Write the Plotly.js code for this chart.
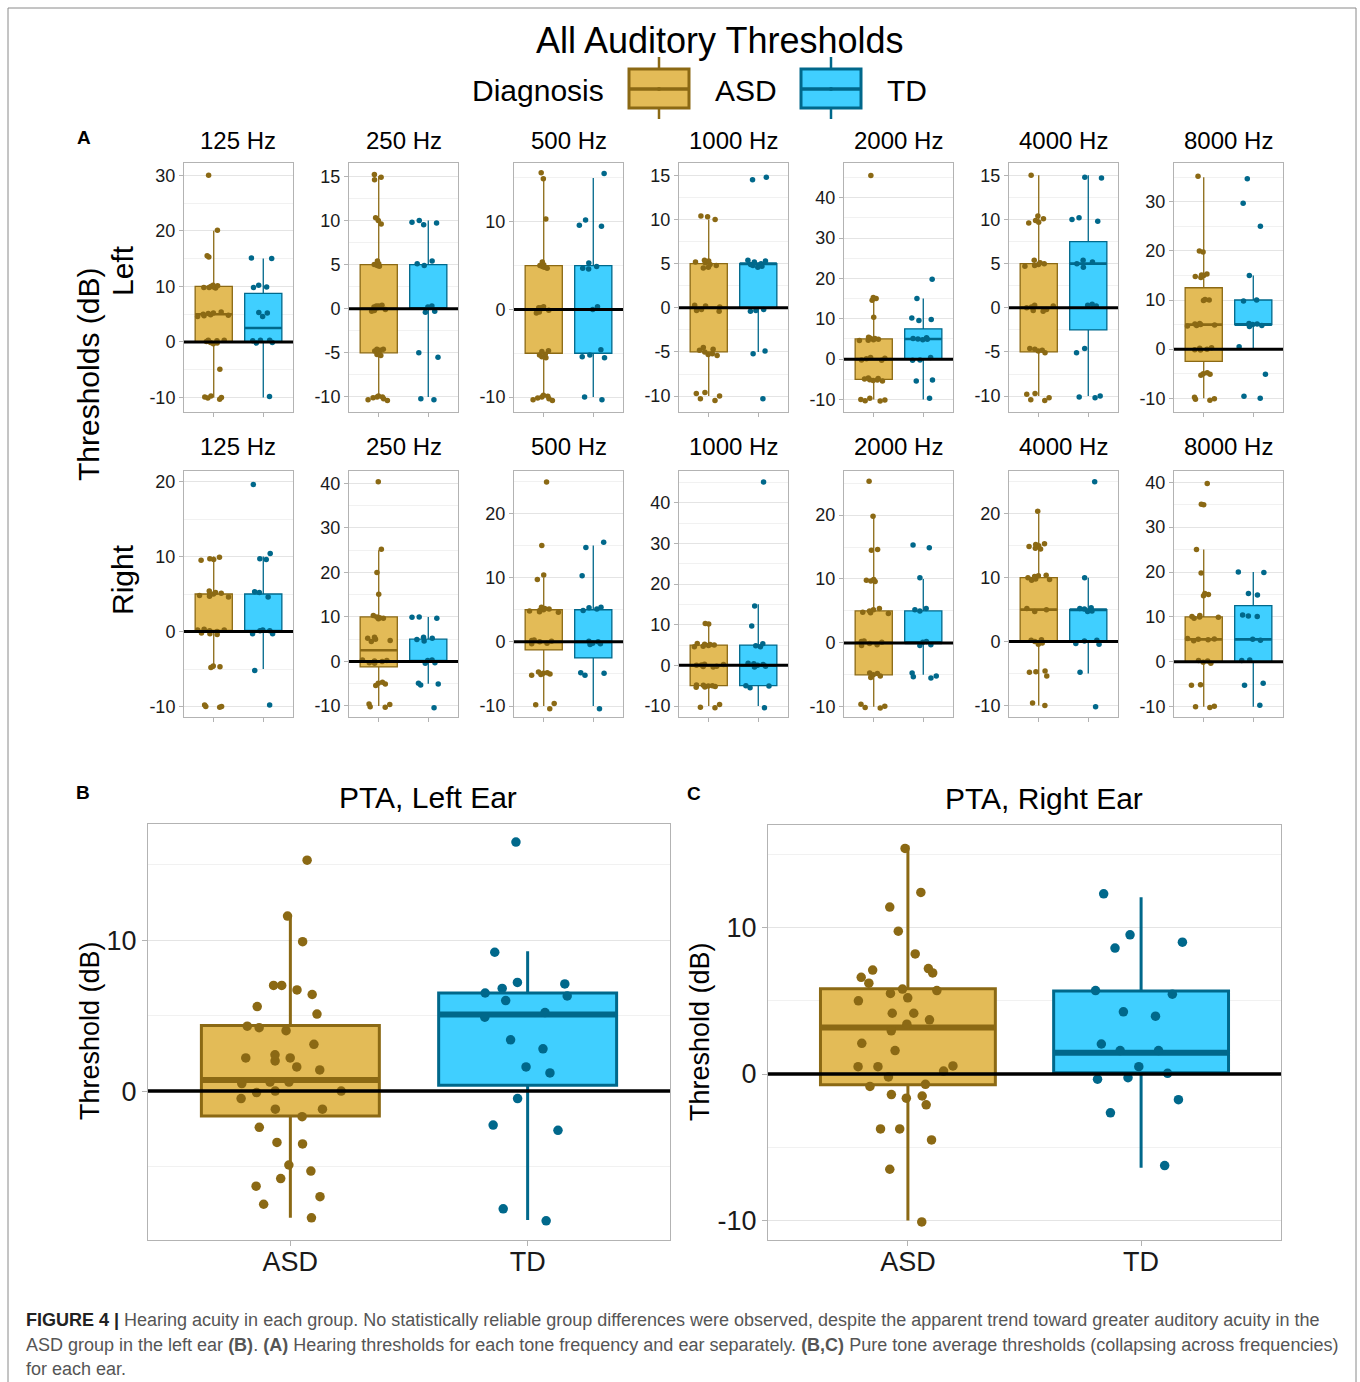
<!DOCTYPE html>
<html><head><meta charset="utf-8">
<script src="https://cdn.plot.ly/plotly-3.0.1.min.js"></script>
<style>body{margin:0;background:#fff}#chart{width:1360px;height:1382px}</style>
</head><body><div id="chart"></div>
<script>
// ---------- DATA ----------
const groups = ['ASD', 'TD'];
const freqLabels = ['125 Hz', '250 Hz', '500 Hz', '1000 Hz', '2000 Hz', '4000 Hz', '8000 Hz'];
const earLabels = ['Left', 'Right'];

// box stats: [lowerfence, q1, median, q3, upperfence]
// Left ear
const L125_ASD = [30.0, 20.1, 15.5, 15.3, 10.2, 10.0, 9.9, 9.8, 9.7, 10.1, 9.8, 5.4, 5.2, 5.0, 4.8, 4.7, 4.6, 5.1, 4.9, 0.3, 0.2, -0.2, -0.1, 0.3, 0.1, -0.3, -4.9, -9.7, -10.0, -10.3, -10.1, -9.9];
const L125_ASD_box = [-10, 0, 5, 10, 20];
const L125_TD = [15.0, 15.1, 10.2, 9.8, 9.9, 5.3, 5.2, 4.6, 0.3, -0.2, 0.2, -0.1, 0.3, -9.8];
const L125_TD_box = [-10, 0, 2.5, 8.75, 15];

const L250_ASD = [15.2, 14.9, 14.6, 10.3, 10.0, 9.6, 5.4, 5.0, 5.1, 4.8, 4.9, 0.3, 0.2, -0.3, -0.2, 0.4, 0.1, -0.1, 0.3, -4.6, -4.7, -4.8, -5.2, -5.3, -4.6, -10.0, -10.2, -10.4, -10.1, -10.0, -9.9, -10.3];
const L250_ASD_box = [-10, -5, 0, 5, 15];
const L250_TD = [10.0, 9.8, 9.7, 9.5, 5.4, 5.1, 4.9, 0.3, 0.2, -0.3, -0.4, -5.0, -5.5, -10.3, -10.2];
const L250_TD_box = [-10, 0, 0, 5, 10];

const L500_ASD = [15.6, 14.9, 10.3, 5.4, 5.0, 4.9, 4.8, 4.7, 5.1, 0.3, 0.2, -0.3, -0.4, 0.1, 0.2, -0.1, -4.7, -4.8, -5.2, -5.4, -5.5, -5.1, -9.8, -10.0, -10.2, -10.4, -10.3, -9.9, -10.1];
const L500_ASD_box = [-10, -5, 0, 5, 15];
const L500_TD = [15.5, 10.2, 9.6, 9.5, 5.3, 4.9, 4.7, 4.6, 0.3, 0.0, -4.6, -5.2, -5.4, -5.5, -10.0, -10.3];
const L500_TD_box = [-10, -5, 0, 5, 15];

const L1000_ASD = [10.4, 10.3, 10.0, 5.4, 5.3, 5.2, 4.9, 4.8, 4.6, 4.5, 5.1, 0.3, -0.3, -0.4, 0.2, -0.2, 0.1, -4.5, -4.7, -5.2, -5.4, -5.3, -5.0, -4.8, -9.6, -9.7, -10.0, -10.3, -10.5];
const L1000_ASD_box = [-10, -5, 0, 5, 10];
const L1000_TD = [14.8, 14.5, 5.3, 5.2, 5.0, 4.9, 4.8, 4.6, 5.4, 4.7, -0.3, -0.4, -0.2, -5.2, -4.9, -10.3];
const L1000_TD_box = [-5, 0, 5, 5, 5];

const L2000_ASD = [45.5, 15.3, 15.0, 14.6, 10.4, 5.4, 5.1, 4.9, 4.8, 4.6, 5.2, 4.7, 0.4, -0.2, 0.1, -0.3, 0.2, -4.7, -5.1, -5.3, -4.9, -5.2, -4.8, -5.4, -9.7, -10.1, -10.4, -10.3, -10.0];
const L2000_ASD_box = [-10, -5, 0, 5, 15];
const L2000_TD = [19.8, 15.0, 10.2, 9.8, 9.6, 5.3, 5.1, 4.9, 4.8, 5.0, 0.4, -0.3, -0.2, -5.2, -5.4, -9.7];
const L2000_TD_box = [-10, 0, 5, 7.5, 15];

const L4000_ASD = [15.0, 10.4, 10.1, 9.9, 9.7, 9.6, 5.4, 5.1, 4.9, 4.8, 4.7, 5.0, 0.3, -0.2, -0.4, 0.1, 0.2, -0.3, 0.0, -4.6, -4.8, -4.9, -5.1, -4.7, -9.7, -10.2, -10.5, -9.8, -10.4];
const L4000_ASD_box = [-10, -5, 0, 5, 15];
const L4000_TD = [14.7, 14.8, 10.2, 9.8, 10.0, 5.4, 5.2, 5.0, 4.6, 0.4, 0.3, 0.2, -4.6, -5.1, -10.0, -10.1, -10.2];
const L4000_TD_box = [-10, -2.5, 5, 7.5, 15];

const L8000_ASD = [35.2, 20.0, 19.8, 15.3, 15.0, 14.8, 14.6, 15.1, 10.1, 9.9, 10.0, 5.2, 4.8, 5.0, 4.9, 4.7, 5.1, 0.2, -0.2, 0.0, 0.3, -0.1, -5.1, -4.8, -5.3, -5.0, -9.8, -10.1, -10.4, -10.2];
const L8000_ASD_box = [-10, -2.5, 5, 12.5, 35];
const L8000_TD = [34.7, 29.7, 25.0, 15.0, 10.0, 9.8, 5.2, 5.0, 4.8, 4.6, 5.1, 0.5, -5.1, -9.6, -10.0];
const L8000_TD_box = [0, 5, 5, 10, 15];

// Right ear
const R125_ASD = [9.9, 9.6, 9.5, 9.7, 5.4, 5.2, 4.8, 4.7, 4.6, 5.1, 5.0, 4.9, 0.3, 0.2, -0.3, -0.4, 0.1, -0.2, 0.0, 0.2, -4.7, -4.6, -4.8, -10.0, -10.0, -9.8, -10.1];
const R125_ASD_box = [-5, 0, 0, 5, 10];
const R125_TD = [19.6, 10.4, 9.6, 9.7, 5.3, 5.2, 4.6, 0.1, -0.3, -0.3, 0.2, 0.1, -5.2, -9.8];
const R125_TD_box = [-5, 0, 0, 5, 10];

const R250_ASD = [40.4, 25.2, 20.0, 15.1, 10.3, 10.0, 9.7, 9.6, 9.8, 5.4, 5.2, 4.7, 4.5, 5.0, 0.3, 0.2, -0.3, -0.4, 0.1, 0.0, -4.7, -5.1, -5.4, -4.9, -10.2, -9.6, -9.7, -10.3];
const R250_ASD_box = [-10, -1.25, 2.5, 10, 25];
const R250_TD = [10.0, 9.9, 9.7, 5.4, 5.2, 4.9, 4.6, 0.3, -0.4, -0.3, 0.2, -5.1, -4.9, -5.3, -10.4];
const R250_TD_box = [-5, 0, 0, 5, 10];

const R500_ASD = [24.9, 15.0, 10.4, 9.7, 5.4, 5.2, 5.0, 4.8, 4.6, 4.7, 5.1, 4.9, 0.3, 0.2, -0.3, -0.2, 0.1, 0.0, -4.7, -4.9, -5.1, -5.2, -5.0, -4.8, -9.6, -9.8, -10.4];
const R500_ASD_box = [-10, -1.25, 0, 5, 10];
const R500_TD = [15.5, 14.7, 10.3, 5.4, 5.3, 5.1, 4.9, 0.1, -0.2, -0.3, -0.4, 0.0, -5.2, -4.8, -4.9, -10.4];
const R500_TD_box = [-10, -2.5, 0, 5, 15];

const R1000_ASD = [10.3, 10.2, 5.4, 5.2, 4.9, 4.7, 4.6, 5.1, 5.0, 0.3, -0.3, -0.2, 0.1, 0.2, -0.4, 0.0, -4.8, -5.1, -5.3, -5.2, -4.9, -5.4, -5.0, -10.3, -10.4, -9.6];
const R1000_ASD_box = [-10, -5, 0, 5, 10];
const R1000_TD = [45.1, 14.6, 9.7, 5.3, 4.8, 4.6, 0.5, 0.4, -0.2, -0.4, 0.2, 0.0, -5.1, -5.0, -5.5, -10.4];
const R1000_TD_box = [-10, -5, 0, 5, 15];

const R2000_ASD = [25.3, 19.8, 14.6, 14.5, 9.9, 9.8, 9.7, 9.6, 5.4, 5.2, 5.0, 4.8, 4.7, 4.6, 0.3, -0.3, 0.2, -0.4, 0.1, -0.1, -4.7, -5.0, -5.2, -5.4, -4.8, -9.6, -9.9, -10.1, -10.2];
const R2000_ASD_box = [-10, -5, 0, 5, 20];
const R2000_TD = [15.3, 14.9, 10.2, 5.4, 5.2, 5.0, 0.2, -0.3, -0.4, 0.1, -4.7, -5.2, -5.3, -5.5];
const R2000_TD_box = [-5, 0, 0, 5, 10];

const R4000_ASD = [20.4, 15.3, 15.0, 14.9, 14.6, 14.5, 15.2, 10.4, 10.2, 10.0, 9.8, 9.7, 9.6, 10.3, 5.2, 5.0, 4.7, 0.3, -0.2, 0.2, -0.4, 0.0, -4.7, -4.8, -5.4, -4.6, -9.6, -10.0];
const R4000_ASD_box = [-10, 0, 5, 10, 20];
const R4000_TD = [25.0, 10.0, 5.2, 5.1, 4.8, 4.7, 5.3, 0.2, -0.3, 0.1, -0.4, -4.8, -10.2];
const R4000_TD_box = [-5, 0, 5, 5, 10];

const R8000_ASD = [39.7, 35.1, 35.0, 25.0, 19.8, 15.2, 15.0, 14.7, 10.3, 10.1, 9.9, 9.7, 10.0, 5.2, 4.9, 4.7, 5.0, 5.1, 0.3, 0.2, -0.3, -0.1, -5.1, -5.2, -9.9, -10.0, -10.2];
const R8000_ASD_box = [-10, 0, 5, 10, 25];
const R8000_TD = [20.0, 19.9, 15.2, 14.9, 10.4, 10.1, 10.2, 5.0, 4.8, 0.4, 0.3, -4.8, -5.2, -9.7];
const R8000_TD_box = [-10, 0, 5, 12.5, 20];

// Pure tone averages
const PTA_L_ASD = [15.3, 11.6, 9.9, 6.4, 6.7, 7.0, 7.0, 5.6, 5.1, 4.3, 4.2, 4.0, 3.1, 2.4, 2.2, 2.2, 2.0, 1.6, 1.4, 0.6, 0.6, 0.5, -0.1, 0.0, 0.0, -0.5, -1.2, -1.2, -1.7, -2.4, -3.4, -3.5, -4.9, -5.3, -5.8, -6.3, -7.0, -7.5, -8.4];
const PTA_L_ASD_box = [-8.4, -1.66, 0.73, 4.35, 11.6];
const PTA_L_TD = [16.5, 9.2, 7.2, 6.8, 7.1, 6.5, 6.3, 6.0, 5.2, 4.9, 3.4, 2.8, 1.6, 1.2, -0.5, -2.25, -2.6, -7.8, -8.6];
const PTA_L_TD_box = [-8.55, 0.38, 5.08, 6.5, 9.27];

const PTA_R_ASD = [15.4, 12.4, 11.4, 9.75, 8.2, 7.2, 7.1, 6.9, 6.6, 6.2, 5.8, 5.7, 5.5, 5.0, 5.2, 4.15, 4.15, 3.7, 3.4, 2.95, 2.1, 1.6, 0.55, 0.5, 0.2, 0.5, -0.2, -0.85, -0.7, -1.4, -1.5, -1.65, -2.1, -3.75, -3.75, -4.5, -6.5, -10.1];
const PTA_R_ASD_box = [-10.0, -0.73, 3.17, 5.83, 15.6];
const PTA_R_TD = [12.3, 9.5, 9.0, 8.6, 5.7, 5.45, 4.25, 3.95, 2.05, 1.6, 1.6, 0.5, 0.05, -0.25, -0.35, -1.75, -2.65, -6.25];
const PTA_R_TD_box = [-6.4, 0.09, 1.45, 5.67, 12.06];

const REF_LEVEL = 0;

// ---------- LAYOUT CONSTANTS ----------
const W = 1360, H = 1382;
const PX = v => v / W, PY = v => 1 - v / H;
const ASD_LINE = '#8B6914', ASD_FILL = '#E3BB57', TD_LINE = '#00688B', TD_FILL = '#40CFFF';
const FONT = 'Liberation Sans, Arial, Helvetica, sans-serif';

const leftRanges = [[-12.6, 32.2], [-11.7, 16.5], [-11.7, 16.7], [-11.8, 16.4], [-13.1, 48.6], [-11.8, 16.4], [-12.8, 37.9]];
const leftDticks = [10, 5, 10, 5, 10, 5, 10];
const rightRanges = [[-11.4, 21.4], [-12.5, 42.8], [-11.7, 26.6], [-12.7, 47.8], [-11.6, 26.9], [-11.8, 26.7], [-12.3, 42.5]];
const rightDticks = [10, 10, 10, 10, 10, 10, 10];

const leftASD = [L125_ASD, L250_ASD, L500_ASD, L1000_ASD, L2000_ASD, L4000_ASD, L8000_ASD];
const leftASDbox = [L125_ASD_box, L250_ASD_box, L500_ASD_box, L1000_ASD_box, L2000_ASD_box, L4000_ASD_box, L8000_ASD_box];
const leftTD = [L125_TD, L250_TD, L500_TD, L1000_TD, L2000_TD, L4000_TD, L8000_TD];
const leftTDbox = [L125_TD_box, L250_TD_box, L500_TD_box, L1000_TD_box, L2000_TD_box, L4000_TD_box, L8000_TD_box];
const rightASD = [R125_ASD, R250_ASD, R500_ASD, R1000_ASD, R2000_ASD, R4000_ASD, R8000_ASD];
const rightASDbox = [R125_ASD_box, R250_ASD_box, R500_ASD_box, R1000_ASD_box, R2000_ASD_box, R4000_ASD_box, R8000_ASD_box];
const rightTD = [R125_TD, R250_TD, R500_TD, R1000_TD, R2000_TD, R4000_TD, R8000_TD];
const rightTDbox = [R125_TD_box, R250_TD_box, R500_TD_box, R1000_TD_box, R2000_TD_box, R4000_TD_box, R8000_TD_box];

const traces = [], shapes = [], annotations = [];
const layout = {
  width: W, height: H, margin: {l: 0, r: 0, t: 0, b: 0},
  paper_bgcolor: '#fff', plot_bgcolor: '#fff', showlegend: false, boxmode: 'overlay',
  font: {family: FONT, color: '#000'}, hovermode: false
};

function ticksFor(range, dtick) {
  const vals = [];
  for (let v = Math.ceil(range[0] / dtick) * dtick; v <= range[1] + 1e-9; v += dtick) vals.push(Math.round(v * 100) / 100);
  return {vals: vals, text: vals.map(v => String(v))};
}

function addPanel(n, dx, dy, asdPts, asdBox, tdPts, tdBox, range, dtick, big) {
  const xs = n === 1 ? '' : String(n);
  const xa = 'x' + xs, ya = 'y' + xs;
  const lw = big ? 3 : 1.3, mlw = big ? 6 : 2.6, ms = big ? 9.5 : 5.5, jit = big ? 0.75 : 0.9;
  const sets = [['ASD', asdPts, asdBox, ASD_LINE, ASD_FILL], ['TD', tdPts, tdBox, TD_LINE, TD_FILL]];
  sets.forEach(([g, pts, b, lc, fc]) => {
    traces.push({type: 'box', xaxis: xa, yaxis: ya, x: [g], lowerfence: [b[0]], q1: [b[1]], median: [b[2]], q3: [b[3]], upperfence: [b[4]],
      width: 0.75, whiskerwidth: 0, boxpoints: false, fillcolor: fc, line: {color: lc, width: lw}, hoverinfo: 'skip'});
  });
  sets.forEach(([g, pts, b, lc, fc]) => {
    traces.push({type: 'box', xaxis: xa, yaxis: ya, x: [g], lowerfence: [b[2]], q1: [b[2]], median: [b[2]], q3: [b[2]], upperfence: [b[2]],
      width: 0.75, whiskerwidth: 0, boxpoints: false, fillcolor: 'rgba(0,0,0,0)', line: {color: lc, width: mlw}, hoverinfo: 'skip'});
  });
  sets.forEach(([g, pts, b, lc, fc]) => {
    traces.push({type: 'box', xaxis: xa, yaxis: ya, x: pts.map(() => g), y: pts, width: 0.75, boxpoints: 'all', jitter: jit, pointpos: 0,
      fillcolor: 'rgba(0,0,0,0)', line: {width: 0, color: 'rgba(0,0,0,0)'}, marker: {color: lc, size: ms, line: {width: 0}}, hoverinfo: 'skip'});
  });
  const tk = ticksFor(range, dtick);
  layout['xaxis' + xs] = {domain: dx, anchor: ya, type: 'category', categoryorder: 'array', categoryarray: groups, range: [-0.6, 1.6],
    showgrid: false, zeroline: false, showline: true, mirror: true, linecolor: '#b3b3b3', linewidth: 1,
    ticks: 'outside', ticklen: big ? 5 : 4, tickcolor: '#b3b3b3', showticklabels: big, ticklabelstandoff: big ? -7 : 0,
    tickfont: {size: 27, color: '#1a1a1a', family: FONT}, fixedrange: true};
  layout['yaxis' + xs] = {domain: dy, anchor: xa, range: range, tickmode: 'array', tickvals: tk.vals, ticktext: tk.text,
    showgrid: true, gridcolor: '#e4e4e4', gridwidth: 1,
    minor: {tick0: 0, dtick: dtick / 2, showgrid: true, gridcolor: '#f1f1f1', gridwidth: 1},
    zeroline: false, showline: true, mirror: true, linecolor: '#b3b3b3', linewidth: 1,
    ticks: 'outside', ticklen: big ? 5 : 4, tickcolor: '#b3b3b3',
    tickfont: {size: big ? 27 : 18, color: '#1a1a1a', family: FONT}, fixedrange: true};
  shapes.push({type: 'line', xref: xa + ' domain', yref: ya, x0: 0, x1: 1, y0: REF_LEVEL, y1: REF_LEVEL,
    line: {color: '#000', width: big ? 3.5 : 3}, layer: 'above'});
}

// small panels
const colLeft0 = 184, colStep = 165, colW = 109;
const rows = [[163, 412], [471, 717]];
const titleY = [140, 447];
for (let r = 0; r < 2; r++) {
  for (let c = 0; c < 7; c++) {
    const n = r * 7 + c + 1;
    const x0 = colLeft0 + c * colStep;
    const dx = [PX(x0), PX(x0 + colW)];
    const dy = [PY(rows[r][1]), PY(rows[r][0])];
    if (r === 0) addPanel(n, dx, dy, leftASD[c], leftASDbox[c], leftTD[c], leftTDbox[c], leftRanges[c], leftDticks[c], false);
    else addPanel(n, dx, dy, rightASD[c], rightASDbox[c], rightTD[c], rightTDbox[c], rightRanges[c], rightDticks[c], false);
    annotations.push({xref: 'paper', yref: 'paper', x: PX(x0 + colW / 2), y: PY(titleY[r]), text: freqLabels[c], showarrow: false,
      xanchor: 'center', yanchor: 'middle', font: {size: 24, color: '#000'}});
  }
}
// big panels
addPanel(15, [PX(148), PX(670)], [PY(1240), PY(824)], PTA_L_ASD, PTA_L_ASD_box, PTA_L_TD, PTA_L_TD_box, [-9.87, 17.7], 10, true);
addPanel(16, [PX(768), PX(1281)], [PY(1240), PY(825)], PTA_R_ASD, PTA_R_ASD_box, PTA_R_TD, PTA_R_TD_box, [-11.33, 17.0], 10, true);

function ann(x, y, text, size, opts) {
  annotations.push(Object.assign({xref: 'paper', yref: 'paper', x: PX(x), y: PY(y), text: text, showarrow: false,
    xanchor: 'center', yanchor: 'middle', font: {size: size, color: '#000'}}, opts || {}));
}
// titles & labels
ann(720, 40, 'All Auditory Thresholds', 36);
ann(470, 90, 'Diagnosis', 30, {xanchor: 'left'});
ann(713, 90, groups[0], 30, {xanchor: 'left'});
ann(885, 90, groups[1], 30, {xanchor: 'left'});
ann(84, 137, '<b>A</b>', 19);
ann(83, 792, '<b>B</b>', 19);
ann(694, 793, '<b>C</b>', 19);
ann(88, 375, 'Thresholds (dB)', 30, {textangle: -90});
ann(122, 271, earLabels[0], 30, {textangle: -90});
ann(122, 580, earLabels[1], 30, {textangle: -90});
ann(428, 797, 'PTA, Left Ear', 30);
ann(1044, 798, 'PTA, Right Ear', 30);
ann(90, 1031, 'Threshold (dB)', 27, {textangle: -90});
ann(700, 1031, 'Threshold (dB)', 27, {textangle: -90});

// caption
const capStyle = {xanchor: 'left', font: {size: 18, color: '#555', family: FONT}};
ann(24, 1320, '<span style="color:#222"><b>FIGURE 4 |</b></span> Hearing acuity in each group. No statistically reliable group differences were observed, despite the apparent trend toward greater auditory acuity in the', 18, capStyle);
ann(24, 1345, 'ASD group in the left ear <b>(B)</b>. <b>(A)</b> Hearing thresholds for each tone frequency and ear separately. <b>(B,C)</b> Pure tone average thresholds (collapsing across frequencies)', 18, capStyle);
ann(24, 1369, 'for each ear.', 18, capStyle);

// custom legend keys
function legendKey(x0, lc, fc) {
  const x1 = x0 + 60, xm = x0 + 30;
  shapes.push({type: 'line', xref: 'paper', yref: 'paper', x0: PX(xm), x1: PX(xm), y0: PY(57), y1: PY(69), line: {color: lc, width: 2.5}});
  shapes.push({type: 'line', xref: 'paper', yref: 'paper', x0: PX(xm), x1: PX(xm), y0: PY(108), y1: PY(119), line: {color: lc, width: 2.5}});
  shapes.push({type: 'rect', xref: 'paper', yref: 'paper', x0: PX(x0), x1: PX(x1), y0: PY(108), y1: PY(69), fillcolor: fc, line: {color: lc, width: 3}});
  shapes.push({type: 'line', xref: 'paper', yref: 'paper', x0: PX(x0), x1: PX(x1), y0: PY(89), y1: PY(89), line: {color: lc, width: 3.5}});
  shapes.push({type: 'circle', xref: 'paper', yref: 'paper', x0: PX(xm - 2), x1: PX(xm + 2), y0: PY(91), y1: PY(87), fillcolor: lc, line: {width: 0}});
}
legendKey(629, ASD_LINE, ASD_FILL);
legendKey(801, TD_LINE, TD_FILL);

// outer frame
shapes.push({type: 'rect', xref: 'paper', yref: 'paper', x0: PX(8), x1: PX(1356), y0: PY(1420), y1: PY(8), line: {color: '#8a8a8a', width: 1}, fillcolor: 'rgba(0,0,0,0)'});

layout.shapes = shapes;
layout.annotations = annotations;
Plotly.newPlot('chart', traces, layout, {staticPlot: true, displayModeBar: false});
</script></body></html>
